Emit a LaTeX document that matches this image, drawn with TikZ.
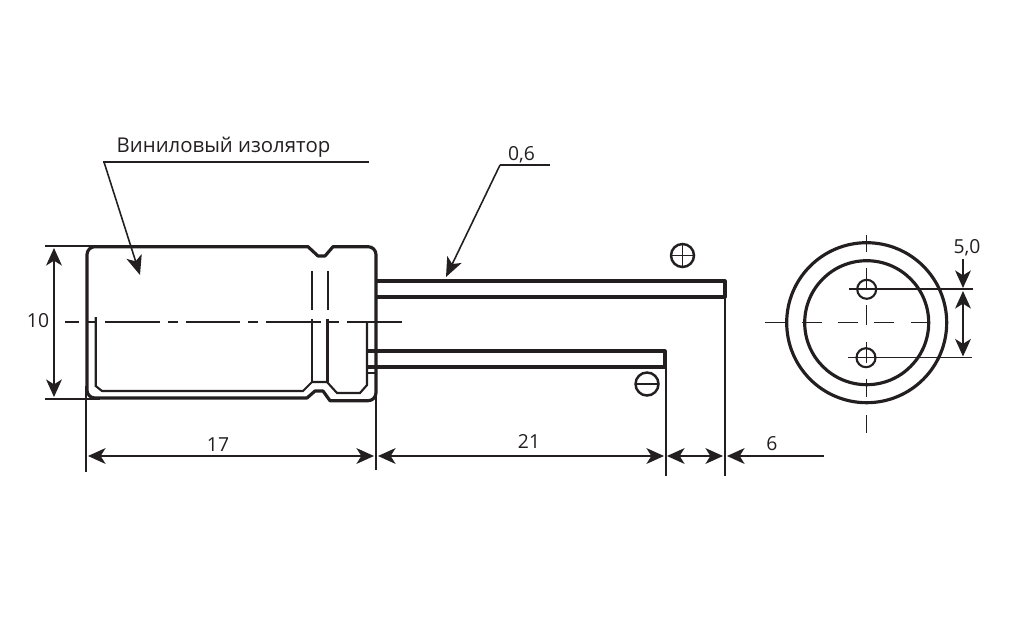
\documentclass[tikz,border=0pt]{standalone}
\usepackage{fontspec}
\setmainfont{Open Sans}
\usetikzlibrary{arrows.meta}
\definecolor{inkc}{HTML}{231F20}
\tikzset{
    body/.style={line width=1.8pt, inkc, line join=round},
    thinl/.style={line width=0.7pt, inkc},
    midl/.style={line width=1.2pt, inkc},
    dimline/.style={line width=0.7pt, inkc, {Stealth[length=10pt,width=9pt,inset=2.8pt]}-{Stealth[length=10pt,width=9pt,inset=2.8pt]}},
    dimend/.style={line width=0.7pt, inkc, -{Stealth[length=10pt,width=9pt,inset=2.8pt]}},
    leader/.style={line width=0.9pt, inkc, -{Stealth[length=11pt,width=9pt,inset=2.8pt]}},
    lbl/.style={inkc, font=\fontsize{11pt}{13pt}\selectfont, inner sep=0pt}
}
\begin{document}
\begin{tikzpicture}[x=0.02cm,y=-0.02cm]
    \useasboundingbox (0,0) rectangle (1022,619);

    % Can outline
    \draw[body] (98,246.7) -- (308,246.7) -- (318,256) -- (325,256) -- (333,246.7)
        [rounded corners=4.5pt] -- (376,246.7) -- (376,400.7) [sharp corners] -- (330,400.7)
        -- (323,391) -- (315,391) -- (307,398) [rounded corners=4.5pt] -- (87,398) -- (87,246.7) -- (98,246.7);

    % Inner sleeve edge
    \draw[midl] (95.7,317) -- (95.7,386) -- (102,391) -- (303,391) -- (312,382) -- (327,382)
        -- (337,393) -- (360,393) -- (367,385) -- (367,322);

    % Groove lines
    \draw[midl, line width=1.4pt] (312,271) -- (312,310);
    \draw[midl, line width=1.4pt] (328,271) -- (328,310);
    \draw[midl] (312,319) -- (312,382);
    \draw[midl, line width=1.4pt] (327.5,319) -- (327.5,382);

    % Leads
    \draw[body] (376,281) -- (725,281) -- (725,297) -- (376,297);
    \draw[body] (367,351) -- (665,351) -- (665,367) -- (367,367);
    \draw[thinl] (368,373) -- (376,373);

    % Polarity marks
    \coordinate (plusc) at (682.5,255.5);
    \coordinate (minusc) at (647,384);
    \draw[midl, line width=1.4pt] (plusc) circle [radius=11.5];
    \draw[thinl] (671,255.5) -- (694,255.5);
    \draw[thinl] (682.5,244) -- (682.5,267);
    \draw[midl, line width=1.4pt] (minusc) circle [radius=11.5];
    \draw[thinl] (635.5,384) -- (658.5,384);

    % Centre line of the body
    \draw[thinl, dash pattern=on 31.2pt off 4.5pt on 5.7pt off 4.5pt, dash phase=23.2pt] (65,322) -- (405,322);

    % Extension lines
    \draw[thinl] (45,246) -- (105,246);
    \draw[thinl] (45,399) -- (100,399);
    \draw[thinl] (86,386) -- (86,472);
    \draw[thinl] (376,386) -- (376,470);
    \draw[thinl] (666,367) -- (666,476);
    \draw[thinl] (725,297) -- (725,476);

    % Dimensions
    \draw[dimline] (54,248) -- (54,397);
    \draw[dimline] (88,456) -- (374,456);
    \draw[dimline] (378,456) -- (664,456);
    \draw[dimline] (667,456) -- (723,456);
    \draw[dimend] (824,456) -- (727,456);
    \node[lbl] (tenlbl) at (38,321) {10};
    \node[lbl] (seventeenlbl) at (218,445) {17};
    \node[lbl] (twentyonelbl) at (529,441) {21};
    \node[lbl] (sixlbl) at (772,444) {6};

    % Leaders
    \draw[thinl] (103,162) -- (369,162);
    \draw[leader] (104,162) -- (140,275);
    \node[lbl, font=\fontsize{11.6pt}{13pt}\selectfont] (isolbl) at (223.5,147) {Виниловый изолятор};
    \draw[thinl] (550,165) -- (500,165);
    \draw[leader] (500,165) -- (446,277);
    \node[lbl] (leadlbl) at (521.5,155) {0,6};

    % End view
    \coordinate (endc) at (866.7,322.7);
    \draw[body] (endc) circle [radius=80];
    \draw[body] (endc) circle [radius=62];
    \draw[midl] (866.7,289.3) circle [radius=9.5];
    \draw[midl] (866,357.7) circle [radius=9.5];

    % Centre lines of the end view
    \foreach \ya/\yb in {235/252,268/288,305/325,342/363,379/397,415/433} {
        \draw[thinl] (866.7,\ya) -- (866.7,\yb);
    }
    \foreach \xa/\xb in {765/785,802/822,838/858,874/894,911/930} {
        \draw[thinl] (\xa,322.7) -- (\xb,322.7);
    }

    % Pin spacing
    \draw[thinl] (849,289) -- (973,289);
    \draw[thinl] (848,357.5) -- (972,357.5);
    \draw[dimend] (963,259) -- (963,288);
    \draw[dimline] (963,291) -- (963,356.5);
    \node[lbl] (pitchlbl) at (967,248) {5,0};
\end{tikzpicture}
\end{document}
